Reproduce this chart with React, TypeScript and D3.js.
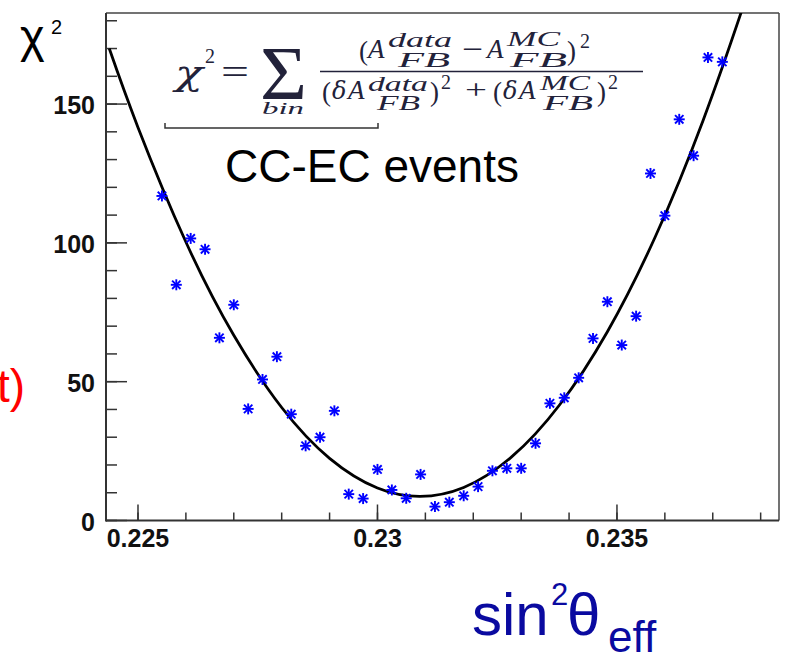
import React from "react";
import * as d3 from "d3";

// ---- data ----
const sinEff = [
  0.2255, 0.2258, 0.2261, 0.2264, 0.2267, 0.227, 0.2273, 0.2276, 0.2279, 0.2282,
  0.2285, 0.2288, 0.2291, 0.2294, 0.2297, 0.23, 0.2303, 0.2306, 0.2309, 0.2312,
  0.2315, 0.2318, 0.2321, 0.2324, 0.2327, 0.233, 0.2333, 0.2336, 0.2339, 0.2342,
  0.2345, 0.2348, 0.2351, 0.2354, 0.2357, 0.236, 0.2363, 0.2366, 0.2369, 0.2372,
];
const chi2 = [
  116.9, 84.9, 101.6, 97.7, 65.8, 77.7, 40.2, 50.8, 59.0, 38.3,
  26.9, 30.0, 39.5, 9.5, 7.9, 18.4, 11.0, 8.0, 16.6, 5.0,
  6.6, 8.9, 12.2, 17.9, 18.8, 18.8, 27.8, 42.2, 44.2, 51.4,
  65.6, 78.8, 63.2, 73.6, 125.0, 109.8, 144.5, 131.4, 166.8, 165.2,
];
// fit curve
const fitX = [0.2244, 0.225, 0.226, 0.227, 0.228, 0.229, 0.23, 0.23089, 0.2318, 0.2328, 0.2338, 0.2348, 0.2358, 0.2368, 0.2376, 0.2378];
const fitY = [170.0, 141.6, 100.3, 66.7, 40.7, 22.4, 11.7, 8.7, 11.9, 22.9, 41.6, 68.0, 102.2, 144.2, 183.4, 194.0];

const xMajorTicks = [0.225, 0.23, 0.235];
const xTickLabels = ["0.225", "0.23", "0.235"];
const xMinorTicks = [0.225, 0.226, 0.227, 0.228, 0.229, 0.23, 0.231, 0.232, 0.233, 0.234, 0.235, 0.236, 0.237, 0.238];
const yMajorTicks = [0, 50, 100, 150];
const yTickLabels = ["0", "50", "100", "150"];
const yMinorTicks = [0, 10, 20, 30, 40, 50, 60, 70, 80, 90, 100, 110, 120, 130, 140, 150, 160, 170, 180];

const W = 787;
const H = 656;
const L = 106, R = 779, T = 13, B = 520.5;

export default function App() {
  const x = d3.scaleLinear().domain([0.224332, 0.238383]).range([L, R]);
  const y = d3.scaleLinear().domain([0, 182.8]).range([B, T]);

  const line = d3
    .line<number>()
    .x((_, i) => x(fitX[i]))
    .y((d) => y(d))
    .curve(d3.curveNatural);

  const sans = "Liberation Sans, Arial, sans-serif";
  const serif = "Liberation Serif, Times New Roman, serif";
  const greekSerif = "DejaVu Serif, serif";
  const fcol = "#22223a";

  const star = (cx: number, cy: number, k: number) => {
    const s = 5.5;
    const d = 4.2;
    return (
      <g key={k} stroke="#0000ff" strokeWidth={1.9}>
        <line x1={cx - s} y1={cy} x2={cx + s} y2={cy} />
        <line x1={cx} y1={cy - s} x2={cx} y2={cy + s} />
        <line x1={cx - d} y1={cy - d} x2={cx + d} y2={cy + d} />
        <line x1={cx - d} y1={cy + d} x2={cx + d} y2={cy - d} />
      </g>
    );
  };

  return (
    <svg
      width={W}
      height={H}
      style={{ position: "absolute", left: 0, top: 0, background: "#fff" }}
    >
      <rect x={0} y={0} width={W} height={H} fill="#fff" />
      <defs>
        <clipPath id="plot">
          <rect x={L} y={T} width={R - L} height={B - T} />
        </clipPath>
      </defs>

      {/* frame */}
      <line x1={L} y1={T} x2={R} y2={T} stroke="#444" strokeWidth={1.5} />
      <line x1={R} y1={T} x2={R} y2={B} stroke="#444" strokeWidth={1.5} />

      {/* y ticks */}
      {yMinorTicks.map((v) => (
        <line key={"ym" + v} x1={L} x2={L + 11} y1={y(v)} y2={y(v)} stroke="#333" strokeWidth={1.5} />
      ))}
      {yMajorTicks.map((v) => (
        <line key={"yM" + v} x1={L} x2={L + 21} y1={y(v)} y2={y(v)} stroke="#333" strokeWidth={1.5} />
      ))}
      {yMajorTicks.map((v, i) => (
        <text key={"yl" + v} x={95} y={y(v) + 10} textAnchor="end" fontFamily={sans} fontWeight="bold" fontSize={25} fill="#111">
          {yTickLabels[i]}
        </text>
      ))}

      {/* x ticks */}
      {xMinorTicks.map((v) => (
        <line key={"xm" + v} x1={x(v)} x2={x(v)} y1={B} y2={B - 8} stroke="#333" strokeWidth={1.5} />
      ))}
      {xMajorTicks.map((v) => (
        <line key={"xM" + v} x1={x(v)} x2={x(v)} y1={B} y2={B - 16} stroke="#333" strokeWidth={1.5} />
      ))}
      {xMajorTicks.map((v, i) => (
        <text key={"xl" + v} x={x(v)} y={547} textAnchor="middle" fontFamily={sans} fontWeight="bold" fontSize={25} fill="#111">
          {xTickLabels[i]}
        </text>
      ))}

      {/* axes */}
      <line x1={L} y1={T} x2={L} y2={B + 1} stroke="#333" strokeWidth={2} />
      <line x1={L} y1={B} x2={R} y2={B} stroke="#333" strokeWidth={2} />

      {/* fit curve */}
      <path d={line(fitY) || ""} fill="none" stroke="#000" strokeWidth={2.8} clipPath="url(#plot)" />

      {/* data points */}
      {chi2.map((v, i) => star(x(sinEff[i]), y(v), i))}

      {/* axis titles */}
      <text x={20} y={52} fontFamily={sans} fontSize={47} fill="#000">χ</text>
      <text x={51} y={34} fontFamily={sans} fontSize={20} fill="#000">2</text>
      <text x={25} y={402} textAnchor="end" fontFamily={sans} fontSize={46} fill="#ff0000">t)</text>

      <g fill="#0a0aa0" fontFamily={sans}>
        <text x={472} y={635} fontSize={60}>sin</text>
        <text x={551} y={605} fontSize={31}>2</text>
        <text x={567} y={635} fontSize={60}>θ</text>
        <text x={608} y={652} fontSize={44}>eff</text>
      </g>

      {/* CC-EC events */}
      <text x={225} y={182} fontFamily={sans} fontSize={46} fill="#000">CC-EC events</text>

      {/* bracket */}
      <path d="M165,123 L165,128 L378,128 L378,123" fill="none" stroke="#333" strokeWidth={1.5} />

      {/* formula */}
      <g fill={fcol} fontFamily={serif}>
        <text x={175} y={85} fontFamily={greekSerif} fontSize={36} fontStyle="italic" textLength={28} lengthAdjust="spacingAndGlyphs">χ</text>
        <text x={205} y={63} fontSize={20}>2</text>
        <text x={221} y={84} fontSize={36} textLength={28} lengthAdjust="spacingAndGlyphs">=</text>
        <text x={260} y={99} fontSize={76} textLength={47} lengthAdjust="spacingAndGlyphs">Σ</text>
        <text x={262} y={114} fontSize={17} fontStyle="italic" textLength={42} lengthAdjust="spacingAndGlyphs">bin</text>
        <line x1={320} x2={643} y1={71.5} y2={71.5} stroke={fcol} strokeWidth={1.3} />

        {/* numerator */}
        <text x={359} y={60} fontSize={27}>(</text>
        <text x={368} y={58} fontSize={27} fontStyle="italic">A</text>
        <text x={388} y={47} fontSize={20} fontStyle="italic" textLength={64} lengthAdjust="spacingAndGlyphs">data</text>
        <text x={398} y={67} fontSize={20} fontStyle="italic" textLength={52} lengthAdjust="spacingAndGlyphs">FB</text>
        <text x={462} y={58} fontSize={27} textLength={21} lengthAdjust="spacingAndGlyphs">−</text>
        <text x={487} y={58} fontSize={27} fontStyle="italic">A</text>
        <text x={507} y={46} fontSize={20} fontStyle="italic" textLength={53} lengthAdjust="spacingAndGlyphs">MC</text>
        <text x={510} y={67} fontSize={20} fontStyle="italic" textLength={57} lengthAdjust="spacingAndGlyphs">FB</text>
        <text x={567} y={60} fontSize={27}>)</text>
        <text x={580} y={48} fontSize={20}>2</text>

        {/* denominator */}
        <text x={322} y={101} fontSize={27}>(</text>
        <text x={332} y={99} fontFamily={greekSerif} fontSize={24} fontStyle="italic">δ</text>
        <text x={348} y={99} fontSize={27} fontStyle="italic">A</text>
        <text x={368} y={91} fontSize={20} fontStyle="italic" textLength={60} lengthAdjust="spacingAndGlyphs">data</text>
        <text x={377} y={110} fontSize={20} fontStyle="italic" textLength={43} lengthAdjust="spacingAndGlyphs">FB</text>
        <text x={430} y={101} fontSize={27}>)</text>
        <text x={441} y={89} fontSize={20}>2</text>
        <text x={465} y={99} fontSize={27} textLength={22} lengthAdjust="spacingAndGlyphs">+</text>
        <text x={493} y={101} fontSize={27}>(</text>
        <text x={503} y={99} fontFamily={greekSerif} fontSize={24} fontStyle="italic">δ</text>
        <text x={519} y={99} fontSize={27} fontStyle="italic">A</text>
        <text x={540} y={90} fontSize={20} fontStyle="italic" textLength={50} lengthAdjust="spacingAndGlyphs">MC</text>
        <text x={543} y={110} fontSize={20} fontStyle="italic" textLength={50} lengthAdjust="spacingAndGlyphs">FB</text>
        <text x={597} y={101} fontSize={27}>)</text>
        <text x={608} y={89} fontSize={20}>2</text>
      </g>
    </svg>
  );
}
